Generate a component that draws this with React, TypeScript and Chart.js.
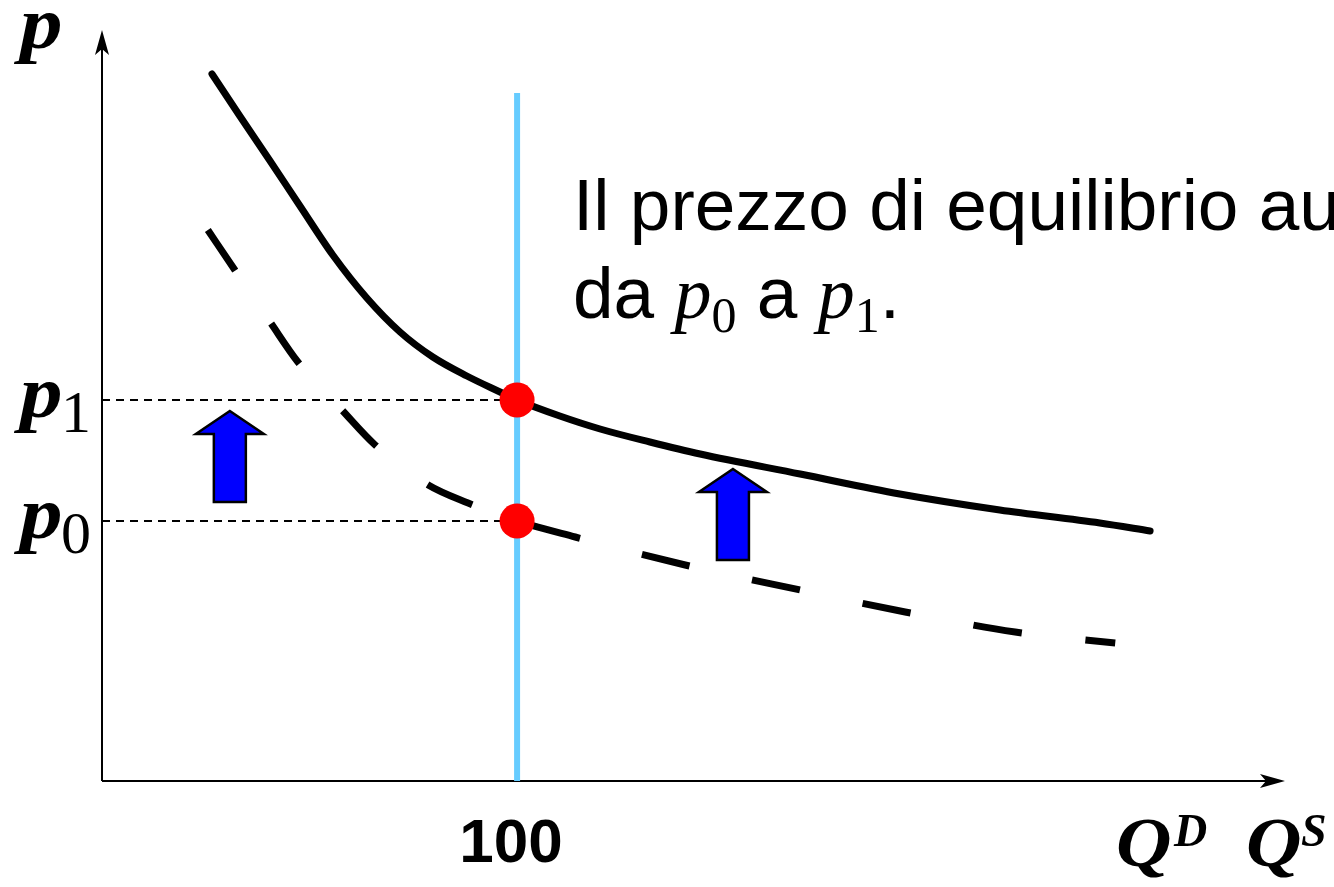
import React, { useEffect, useRef } from "react";
import { Chart, registerables } from "chart.js";

Chart.register(...registerables);

// Demand curve after the shift (solid)
const solidQ = [26.5, 33.2, 40.5, 47.7, 55.6, 63.8, 71.8, 79.7, 87.9, 95.9, 100, 110.3, 120.0, 132.0, 144.1, 168.2, 192.2, 216.3, 240.4, 252.5];
const solidP = [70.7, 66.5, 62.0, 57.5, 52.6, 48.3, 44.9, 42.4, 40.5, 38.9, 38.1, 36.5, 35.2, 33.9, 32.7, 30.7, 28.7, 27.1, 25.8, 25.0];
// Demand curve before the shift (dashed)
const dashedQ = [25.5, 32.0, 40.5, 47.2, 57.8, 65.8, 78.6, 88.2, 100, 114.0, 140.5, 168.2, 193.5, 220.0, 244.1];
const dashedP = [55.1, 51.1, 45.9, 41.9, 37.1, 33.6, 29.6, 27.8, 26.0, 24.4, 21.6, 19.1, 16.9, 14.9, 13.8];
// Fixed supply
const supplyQ = 100;
const supplyTop = 68.8;
// Prices
const priceLabels = ["p0", "p1"];
const priceValues = [26.0, 38.1];
// Shift arrows
const arrowQ = [30.8, 152.0];
const arrowBottom = [27.9, 22.1];
const arrowTip = [37.0, 31.2];
// Axes
const xMax = 285;
const yMax = 75.1;
const qTickLabel = "100";
const textLine1 = "Il prezzo di equilibrio aumenta";

const SERIF = "'Liberation Serif', 'Times New Roman', serif";

function wideText(ctx: CanvasRenderingContext2D, t: string, x: number, y: number, sx: number) {
  ctx.save();
  ctx.translate(x, y);
  ctx.scale(sx, 1);
  ctx.fillText(t, 0, 0);
  ctx.restore();
}

const overlay = {
  id: "overlay",
  beforeDatasetsDraw(chart: any) {
    const { ctx, scales } = chart;
    const x = scales.x, y = scales.y;
    const x0 = x.getPixelForValue(0), y0 = y.getPixelForValue(0);
    const xt = x.getPixelForValue(xMax), yt = y.getPixelForValue(yMax);
    ctx.save();
    ctx.strokeStyle = "#000";
    ctx.fillStyle = "#000";
    ctx.lineWidth = 2;
    ctx.beginPath();
    ctx.moveTo(x0, y0);
    ctx.lineTo(x0, yt + 10);
    ctx.moveTo(x0, y0);
    ctx.lineTo(xt - 10, y0);
    ctx.stroke();
    ctx.beginPath();
    ctx.moveTo(x0, yt);
    ctx.lineTo(x0 + 7, yt + 25);
    ctx.lineTo(x0, yt + 19);
    ctx.lineTo(x0 - 7, yt + 25);
    ctx.closePath();
    ctx.fill();
    ctx.beginPath();
    ctx.moveTo(xt, y0);
    ctx.lineTo(xt - 25, y0 - 7);
    ctx.lineTo(xt - 19, y0);
    ctx.lineTo(xt - 25, y0 + 7);
    ctx.closePath();
    ctx.fill();
    ctx.restore();
  },
  afterDatasetsDraw(chart: any) {
    const { ctx, scales } = chart;
    const x = scales.x, y = scales.y;
    ctx.save();
    for (let i = 0; i < arrowQ.length; i++) {
      const cx = x.getPixelForValue(arrowQ[i]);
      const tip = y.getPixelForValue(arrowTip[i]);
      const bot = y.getPixelForValue(arrowBottom[i]);
      const hw = 34, sw = 16, hh = 23;
      ctx.beginPath();
      ctx.moveTo(cx, tip);
      ctx.lineTo(cx + hw, tip + hh);
      ctx.lineTo(cx + sw, tip + hh);
      ctx.lineTo(cx + sw, bot);
      ctx.lineTo(cx - sw, bot);
      ctx.lineTo(cx - sw, tip + hh);
      ctx.lineTo(cx - hw, tip + hh);
      ctx.closePath();
      ctx.fillStyle = "#0000FF";
      ctx.fill();
      ctx.lineWidth = 2.5;
      ctx.strokeStyle = "#000";
      ctx.stroke();
    }
    ctx.restore();
  },
  afterDraw(chart: any) {
    const { ctx, scales } = chart;
    const x = scales.x, y = scales.y;
    ctx.save();
    ctx.fillStyle = "#000";
    ctx.textAlign = "left";
    ctx.textBaseline = "alphabetic";
    const bi = (s: number) => `bold italic ${s}px ${SERIF}`;
    const rs = (s: number) => `${s}px ${SERIF}`;
    // y axis title
    ctx.font = bi(74);
    wideText(ctx, "p", 20, 48, 1.15);
    // price labels
    for (let i = 0; i < priceValues.length; i++) {
      const py = y.getPixelForValue(priceValues[i]);
      ctx.font = bi(74);
      wideText(ctx, "p", 20, py + 17, 1.15);
      ctx.font = rs(60);
      ctx.fillText(priceLabels[i].slice(1), 61, py + 32);
    }
    // x tick
    ctx.font = "bold 62px 'Liberation Sans', Arial, sans-serif";
    ctx.textAlign = "center";
    ctx.fillText(qTickLabel, x.getPixelForValue(supplyQ) - 6, 862);
    ctx.textAlign = "left";
    // Q^D Q^S
    ctx.font = bi(70);
    wideText(ctx, "Q", 1116, 866, 1.1);
    wideText(ctx, "Q", 1246, 866, 1.1);
    ctx.font = bi(46);
    ctx.fillText("D", 1174, 846);
    ctx.fillText("S", 1301, 846);
    // annotation text
    const sans = "73px 'Liberation Sans', Arial, sans-serif";
    ctx.font = sans;
    ctx.fillText(textLine1, 573, 230);
    let cx = 573;
    const base = 318;
    const parts: [string, string, number][] = [
      ["da ", sans, 0],
      ["p", `italic 74px ${SERIF}`, 0],
      ["0", `50px ${SERIF}`, 14],
      [" a ", sans, 0],
      ["p", `italic 74px ${SERIF}`, 0],
      ["1", `50px ${SERIF}`, 14],
      [".", sans, 0],
    ];
    for (const [t, f, dy] of parts) {
      ctx.font = f;
      ctx.fillText(t, cx, base + dy);
      cx += ctx.measureText(t).width;
    }
    ctx.restore();
  },
};

export default function App() {
  const ref = useRef<HTMLCanvasElement | null>(null);
  useEffect(() => {
    if (!ref.current) return;
    const hLines = priceValues.map((p) => ({
      type: "scatter" as const,
      data: [{ x: 0, y: p }, { x: supplyQ, y: p }],
      showLine: true,
      borderColor: "#000",
      borderWidth: 2,
      borderDash: [8, 6],
      pointRadius: 0,
      order: 5,
    }));
    const chart = new Chart(ref.current, {
      type: "scatter",
      data: {
        datasets: [
          {
            data: priceValues.map((p) => ({ x: supplyQ, y: p })),
            pointRadius: 17.5,
            pointBackgroundColor: "#FF0000",
            pointBorderWidth: 0,
            borderColor: "#FF0000",
            showLine: false,
            order: 0,
          },
          {
            data: solidQ.map((q, i) => ({ x: q, y: solidP[i] })),
            showLine: true,
            borderColor: "#000",
            borderWidth: 7,
            borderCapStyle: "round",
            borderJoinStyle: "round",
            cubicInterpolationMode: "monotone",
            pointRadius: 0,
            order: 1,
          },
          {
            data: dashedQ.map((q, i) => ({ x: q, y: dashedP[i] })),
            showLine: true,
            borderColor: "#000",
            borderWidth: 7,
            borderCapStyle: "butt",
            borderDash: [49, 64],
            cubicInterpolationMode: "monotone",
            pointRadius: 0,
            order: 2,
          },
          {
            data: [{ x: supplyQ, y: 0 }, { x: supplyQ, y: supplyTop }],
            showLine: true,
            borderColor: "#66CCFF",
            borderWidth: 6,
            pointRadius: 0,
            order: 3,
          },
          ...hLines,
        ] as any,
      },
      options: {
        animation: false,
        responsive: false,
        layout: { padding: { left: 102, right: 49, top: 30, bottom: 106 } },
        plugins: { legend: { display: false }, tooltip: { enabled: false } },
        scales: {
          x: { type: "linear", min: 0, max: xMax, display: false },
          y: { type: "linear", min: 0, max: yMax, display: false },
        },
      },
      plugins: [overlay],
    });
    return () => chart.destroy();
  }, []);
  return (
    <div style={{ position: "absolute", left: 0, top: 0, width: 1334, height: 887, background: "#fff" }}>
      <canvas ref={ref} width={1334} height={887} />
    </div>
  );
}
